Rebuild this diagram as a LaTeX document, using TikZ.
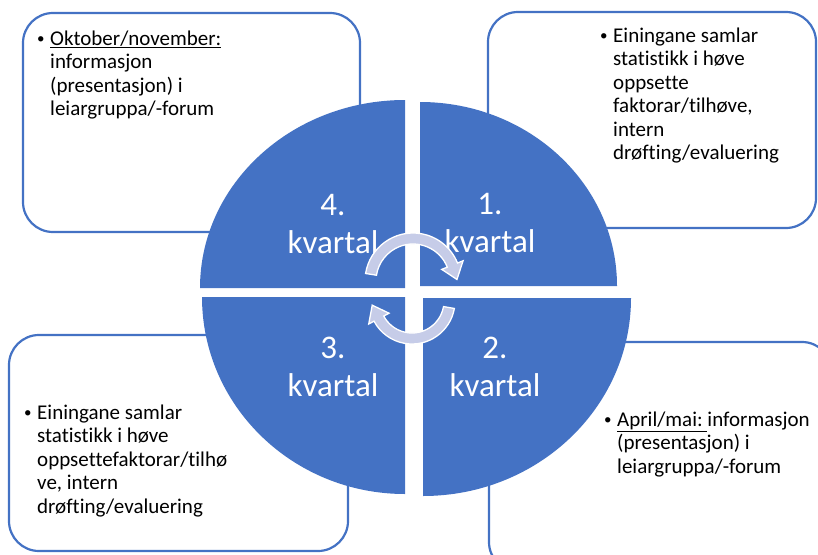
\documentclass[tikz,border=0pt]{standalone}
\usepackage{fontspec}
\setmainfont{Carlito}[Ligatures=CommonOff]
\usepackage{xcolor}
\definecolor{quarterblue}{HTML}{4472C4}
\definecolor{arrowfill}{RGB}{198,204,232}
\newcommand{\infobullet}{\makebox[13pt][l]{\raisebox{1.5pt}{\fontsize{15}{15}\selectfont\textbullet}}}

\begin{document}
\begin{tikzpicture}[x=1pt, y=-1pt,
    infobox/.style={draw=quarterblue, line width=2.2pt, rounded corners=30pt, fill=white},
    infotext/.style={anchor=north west, inner sep=0pt, font=\fontsize{21}{23.5}\selectfont},
    quarter/.style={fill=quarterblue},
    quarterlabel/.style={text=white, align=center, inner sep=0pt, font=\fontsize{33}{38}\selectfont},
    cyclearrow/.style={fill=arrowfill, draw=white, line width=1.3pt}]
    \useasboundingbox (0,0) rectangle (818,554);

    \node[infobox, minimum width=337pt, minimum height=219pt] (box4) at (191.5,122.5) {};
    \node[infobox, minimum width=328pt, minimum height=216pt] (box1) at (652,120) {};
    \node[infobox, minimum width=339pt, minimum height=216pt] (box3) at (178.5,443) {};
    \node[infobox, minimum width=343pt, minimum height=230pt] (box2) at (660.5,457) {};

    \node[infotext] (txt4) at (37,28.5) {\begin{tabular}{@{}l@{}l@{}}
        \infobullet & \underline{Oktober/november:}\\
        & informasjon\\
        & (presentasjon) i\\
        & leiargruppa/-forum
    \end{tabular}};
    \node[infotext] (txt1) at (600,25.5) {\begin{tabular}{@{}l@{}l@{}}
        \infobullet & Einingane samlar\\
        & statistikk i høve\\
        & oppsette\\
        & faktorar/tilhøve,\\
        & intern\\
        & drøfting/evaluering
    \end{tabular}};
    \node[infotext] (txt3) at (24,402.5) {\begin{tabular}{@{}l@{}l@{}}
        \infobullet & Einingane samlar\\
        & statistikk i høve\\
        & oppsettefaktorar/tilhø\\
        & ve, intern\\
        & drøfting/evaluering
    \end{tabular}};
    \node[infotext] (txt2) at (604,409.5) {\begin{tabular}{@{}l@{}l@{}}
        \infobullet & \underline{April/mai:\ }informasjon\\
        & (presentasjon) i\\
        & leiargruppa/-forum
    \end{tabular}};

    \fill[quarter] (405,288) -- (200,288) arc[start angle=180, end angle=270, x radius=205, y radius=188] -- cycle;
    \fill[quarter] (420,286) -- (420,102) arc[start angle=270, end angle=360, x radius=197, y radius=184] -- cycle;
    \fill[quarter] (423,298) -- (631,298) arc[start angle=0, end angle=90, x radius=208, y radius=198] -- cycle;
    \fill[quarter] (405,297) -- (405,494) arc[start angle=90, end angle=180, x radius=203, y radius=197] -- cycle;

    \node[quarterlabel] (q4) at (333,224) {4.\\kvartal};
    \node[quarterlabel] (q1) at (490,223) {1.\\kvartal};
    \node[quarterlabel] (q2) at (495,367) {2.\\kvartal};
    \node[quarterlabel] (q3) at (333,367) {3.\\kvartal};

    \begin{scope}[shift={(413,281)}]
        \filldraw[cyclearrow] (189:48) arc[start angle=189, end angle=338, radius=48]
            -- (338:54) -- (358:44) -- (338:31) -- (338:37)
            arc[start angle=338, end angle=189, radius=37] -- cycle;
    \end{scope}
    \begin{scope}[shift={(412,301)}]
        \filldraw[cyclearrow] (10:43) arc[start angle=10, end angle=152, radius=43]
            -- (152:49) -- (174:40) -- (152:26) -- (152:32)
            arc[start angle=152, end angle=10, radius=32] -- cycle;
    \end{scope}
\end{tikzpicture}
\end{document}
